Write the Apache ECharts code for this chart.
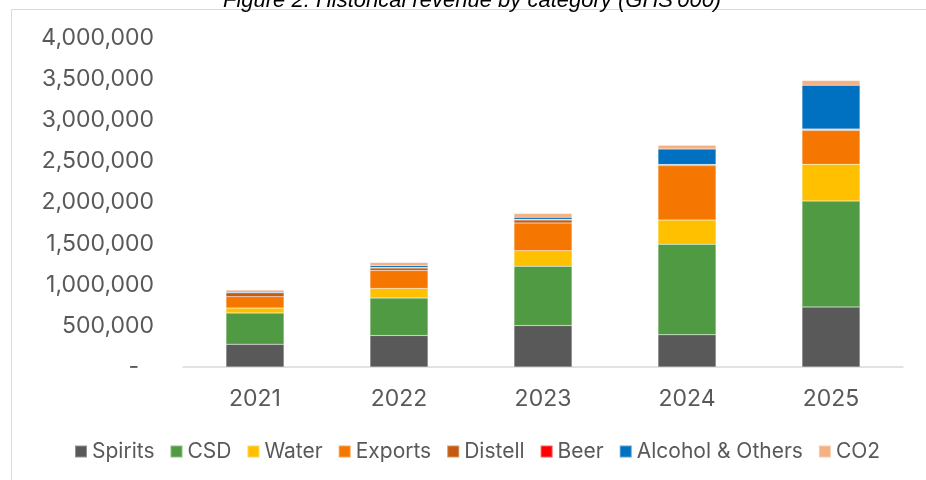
<!DOCTYPE html>
<html>
<head>
<meta charset="utf-8">
<script src="https://cdn.jsdelivr.net/npm/echarts@6/dist/echarts.min.js"></script>
<style>
  html, body { margin: 0; padding: 0; background: #fff; }
  #chart { width: 926px; height: 480px; }
</style>
</head>
<body>
<div id="chart"></div>
<script>
// Revenue by category, GHS'000
const years = ['2021', '2022', '2023', '2024', '2025'];
const spirits = [278000, 383000, 504000, 392000, 730000];
const csd = [378000, 455000, 720000, 1100000, 1288000];
const water = [60000, 117000, 190000, 294000, 447000];
const exportsRev = [138000, 218000, 338000, 661000, 411000];
const distell = [48000, 32000, 36000, 12000, 10000];
const beer = [3000, 5000, 8000, 2000, 8000];
const alcoholOthers = [15000, 24000, 24000, 189000, 532000];
const co2 = [15000, 36000, 45000, 45000, 57000];
const yTicks = [0, 500000, 1000000, 1500000, 2000000, 2500000, 3000000, 3500000, 4000000];

const seriesDefs = [
  ['Spirits', spirits, '#595959'],
  ['CSD', csd, '#4f9a42'],
  ['Water', water, '#ffc000'],
  ['Exports', exportsRev, '#f57600'],
  ['Distell', distell, '#c55a11'],
  ['Beer', beer, '#ff0000'],
  ['Alcohol & Others', alcoholOthers, '#0070c0'],
  ['CO2', co2, '#f4b183']
];

const font = 'Inter, "Noto Sans", sans-serif';
const chart = echarts.init(document.getElementById('chart'));

chart.setOption({
  animation: false,
  title: {
    text: "Figure 2: Historical revenue by category (GHS'000)",
    left: 218,
    top: -15,
    textStyle: {
      fontFamily: '"Liberation Sans", Arial, sans-serif',
      fontStyle: 'italic',
      fontWeight: 'normal',
      fontSize: 22,
      color: '#000'
    }
  },
  graphic: [{
    type: 'rect',
    shape: { x: 11.5, y: 9.5, width: 940, height: 500 },
    style: { fill: 'none', stroke: '#d9d9d9', lineWidth: 1 },
    silent: true,
    z: -1
  }],
  grid: { left: 183, right: 23, top: 38, bottom: 113, containLabel: false },
  legend: {
    bottom: 13,
    left: 69,
    itemWidth: 12,
    itemHeight: 12,
    itemGap: 15,
    icon: 'rect',
    textStyle: { fontFamily: font, fontSize: 21, color: '#595959' },
    data: seriesDefs.map(d => d[0])
  },
  xAxis: {
    type: 'category',
    data: years,
    axisLine: { lineStyle: { color: '#d9d9d9', width: 1.5 } },
    axisTick: { show: false },
    axisLabel: { fontFamily: font, fontSize: 23, color: '#595959', margin: 21 }
  },
  yAxis: {
    type: 'value',
    min: 0,
    max: yTicks[yTicks.length - 1],
    interval: yTicks[1] - yTicks[0],
    splitLine: { show: false },
    axisLine: { show: false },
    axisTick: { show: false },
    axisLabel: {
      fontFamily: font,
      fontSize: 23,
      color: '#595959',
      margin: 29,
      formatter: v => v === 0 ? '{dash|-}' : v.toLocaleString('en-US'),
      rich: { dash: { fontFamily: font, fontSize: 23, color: '#595959', padding: [0, 15, 0, 0] } }
    }
  },
  series: seriesDefs.map(([name, data, color]) => ({
    name,
    type: 'bar',
    stack: 'total',
    data,
    barWidth: 58,
    itemStyle: { color, borderColor: 'rgba(255,255,255,0.35)', borderWidth: 0.5 }
  }))
});
</script>
</body>
</html>
